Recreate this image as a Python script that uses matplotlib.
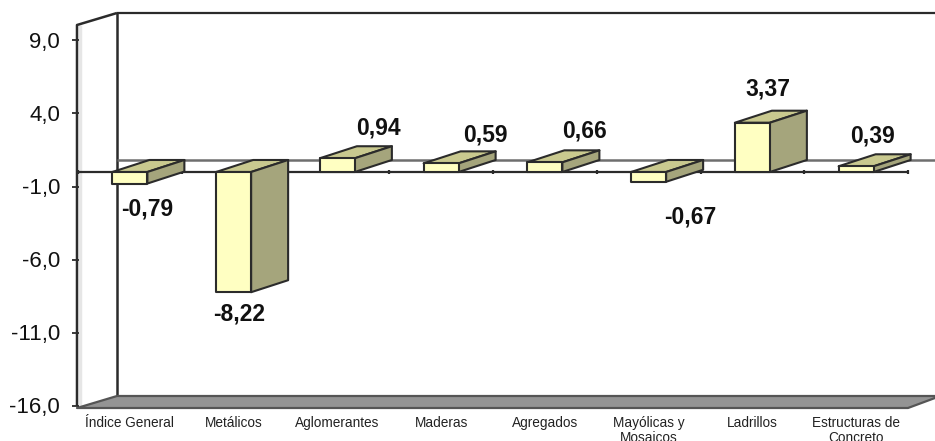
import matplotlib
matplotlib.use('Agg')
import matplotlib.pyplot as plt
from matplotlib.patches import Polygon

plt.rcParams['font.family'] = ['Liberation Sans', 'DejaVu Sans']

categories = ['Índice General', 'Metálicos', 'Aglomerantes', 'Maderas', 'Agregados',
              'Mayólicas y\nMosaicos', 'Ladrillos', 'Estructuras de\nConcreto']
values = [-0.79, -8.22, 0.94, 0.59, 0.66, -0.67, 3.37, 0.39]
value_labels = ['-0,79', '-8,22', '0,94', '0,59', '0,66', '-0,67', '3,37', '0,39']
y_ticks = [-16, -11, -6, -1, 4, 9]
y_tick_labels = ['-16,0', '-11,0', '-6,0', '-1,0', '4,0', '9,0']
# where each value label sits, relative to the bar top (pixels)
label_dx = [17, 5, 41, 44, 40, 42, 16, 16]
label_dy = [-25, -22, 30, 28, 31, -35, 34, 30]

W, H = 935, 441
PX_L, PX_R, PX_B, PX_T = 78, 908, 406, 25
fig = plt.figure(figsize=(W / 100, H / 100), dpi=100)
ax = fig.add_axes([PX_L / W, 1 - PX_B / H, (PX_R - PX_L) / W, (PX_B - PX_T) / H])
y_floor = -16
y_top = 10.05
ax.set_xlim(0, 8)
ax.set_ylim(y_floor, y_top)
ax.axis('off')

px_x = 8 / (PX_R - PX_L)
px_y = (y_top - y_floor) / (PX_B - PX_T)
depth_x = 40 * px_x
depth_y = 12 * px_y
x_left = -1 * px_x
x_right = 8
x_edge = x_right + 27 * px_x  # right border of the image
dark = '#2b2b2b'


def poly(pts, fc, lw=1.5, ec=dark, z=2):
    ax.add_patch(Polygon(pts, closed=True, fc=fc, ec=ec, lw=lw, clip_on=False, zorder=z, joinstyle='round'))


def line(xs, ys, lw=1.5, color=dark, z=3):
    ax.plot(xs, ys, color=color, lw=lw, clip_on=False, zorder=z, solid_capstyle='butt')


# left wall with its soft inner shade, back wall lines
line([x_left + 3 * px_x] * 2, [y_floor, y_top], lw=2.5, color='#e6e6e6', z=0)
line([x_left, x_left, x_left + depth_x], [y_floor, y_top, y_top + depth_y], lw=1.8)
line([x_left + depth_x, x_edge], [y_top + depth_y] * 2, lw=1.6)
line([x_left + depth_x] * 2, [y_floor + 10 * px_y, y_top + depth_y], lw=1.8, z=1)

# floor
poly([(x_left, y_floor - 2 * px_y), (x_left + depth_x, y_floor + 10 * px_y), (x_edge, y_floor + 10 * px_y),
      (x_edge, y_floor + 8 * px_y), (x_right, y_floor - 2 * px_y)],
     '#949494', lw=1.6, ec='#555555', z=1)

# zero plane: back line and front axis with ticks
line([x_left + depth_x, x_edge], [depth_y, depth_y], lw=1.8, color='#6e6e6e', z=1)
line([x_left, x_right], [0, 0], lw=1.6, z=1)
for i in range(len(categories) + 1):
    line([i, i], [-2 * px_y, 2 * px_y], lw=1.6, z=1)

# value axis ticks and labels
for t, lab in zip(y_ticks, y_tick_labels):
    line([x_left - 5 * px_x, x_left + 2 * px_x], [t, t], lw=1.3)
    ax.text(x_left - 17 * px_x, t - 2 * px_y, lab, ha='right', va='center', fontsize=16, color='#111111', clip_on=False)

# 3d bars
bar_w = 35 * px_x
bar_dx = 37 * px_x
for i, (cat, v) in enumerate(zip(categories, values)):
    c = i + 0.5
    x0, x1 = c - bar_w / 2, c + bar_w / 2
    lo, hi = min(v, 0), max(v, 0)
    poly([(x0, hi), (x0 + bar_dx, hi + depth_y), (x1 + bar_dx, hi + depth_y), (x1, hi)], '#c9c98f', z=4)
    poly([(x1, lo), (x1 + bar_dx, lo + depth_y), (x1 + bar_dx, hi + depth_y), (x1, hi)], '#a5a57c', z=4)
    poly([(x0, lo), (x1, lo), (x1, hi), (x0, hi)], '#ffffc2', z=5)
    ax.text(c + label_dx[i] * px_x, v + label_dy[i] * px_y, value_labels[i], ha='center', va='center',
            fontsize=16.5, fontweight='bold', color='#111111', zorder=6)
    ax.text(c, y_floor - 10 * px_y, cat, ha='center', va='top', fontsize=9.8, color='#222222',
            linespacing=1.1, clip_on=False)

fig.savefig('out.png', dpi=100, facecolor='white')
